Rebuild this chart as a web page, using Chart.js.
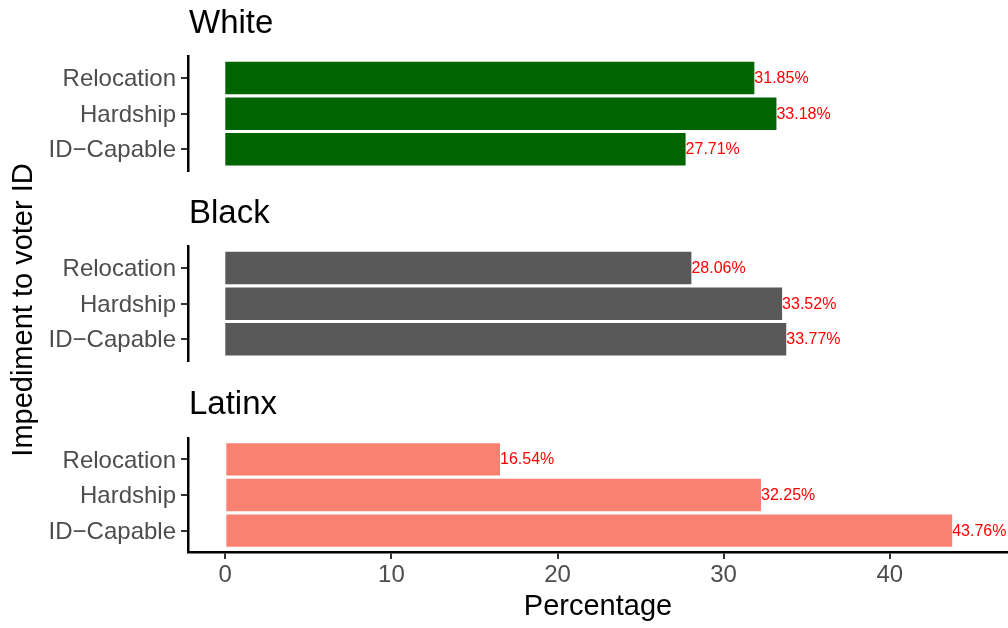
<!DOCTYPE html>
<html>
<head>
<meta charset="utf-8">
<script src="https://cdn.jsdelivr.net/npm/chart.js@4.4.0/dist/chart.umd.min.js"></script>
<style>
  body { margin: 0; background: #fff; }
  #wrap { position: relative; width: 1008px; height: 628px; overflow: hidden; font-family: "Liberation Sans", Arial, sans-serif; }
  canvas { position: absolute; left: 0; }
  #ytitle { position: absolute; left: -178px; top: 293px; width: 400px; height: 34px; line-height: 34px;
            text-align: center; font-size: 29px; color: #000; transform: rotate(-90deg); white-space: nowrap; }
</style>
</head>
<body>
<div id="wrap">
  <canvas id="white" width="1008" height="180" style="top:0px"></canvas>
  <canvas id="black" width="1008" height="180" style="top:190px"></canvas>
  <canvas id="latinx" width="1008" height="247" style="top:381px"></canvas>
  <div id="ytitle">Impediment to voter ID</div>
</div>
<script>
// bottom to top, like the facets
const impediments = ['ID−Capable', 'Hardship', 'Relocation'];
const whiteVals = [27.71, 33.18, 31.85];
const blackVals = [33.77, 33.52, 28.06];
const latinxVals = [43.76, 32.25, 16.54];
const xTicks = [0, 10, 20, 30, 40];

const FONT = '"Liberation Sans", Arial, sans-serif';
Chart.defaults.font.family = FONT;

const panelTitle = {
  id: 'panelTitle',
  afterDraw(chart, args, opts) {
    const ctx = chart.ctx;
    ctx.save();
    ctx.font = '33px ' + FONT;
    ctx.fillStyle = '#000';
    ctx.textAlign = 'left';
    ctx.textBaseline = 'alphabetic';
    ctx.fillText(opts.text, chart.chartArea.left + 1, chart.chartArea.top - 23.7);
    ctx.restore();
  }
};

const barLabels = {
  id: 'barLabels',
  afterDatasetsDraw(chart) {
    const ctx = chart.ctx;
    const meta = chart.getDatasetMeta(0);
    const data = chart.data.datasets[0].data;
    ctx.save();
    ctx.font = '16px ' + FONT;
    ctx.fillStyle = '#ff0000';
    ctx.textAlign = 'left';
    ctx.textBaseline = 'middle';
    meta.data.forEach((bar, i) => {
      ctx.fillText(data[i].x.toFixed(2) + '%', bar.x, bar.y + 0.5);
    });
    ctx.restore();
  }
};

function makePanel(id, title, vals, color, padTop, padBottom, showX) {
  return new Chart(document.getElementById(id), {
    type: 'bar',
    data: {
      datasets: [{
        data: impediments.map((c, i) => ({ x: vals[i], y: i + 1 })),
        backgroundColor: color,
        borderWidth: 0,
        barPercentage: 0.91,
        categoryPercentage: 1
      }]
    },
    options: {
      indexAxis: 'y',
      responsive: false,
      animation: false,
      layout: { padding: { top: padTop, bottom: padBottom, left: 0, right: 0 } },
      plugins: {
        legend: { display: false },
        tooltip: { enabled: false },
        panelTitle: { text: title }
      },
      scales: {
        x: {
          type: 'linear',
          min: -2.245,
          max: 47.12,
          display: showX,
          afterBuildTicks: s => { s.ticks = xTicks.map(v => ({ value: v })); },
          afterFit: s => {
            if (showX) s.height = 76;
            s.paddingLeft = 0; s.paddingRight = 0;
          },
          border: { display: true, color: '#000', width: 2.5 },
          grid: { drawOnChartArea: false, drawTicks: true, tickLength: 7, color: '#333333', lineWidth: 2 },
          ticks: { color: '#4d4d4d', font: { size: 24 }, padding: 2, maxRotation: 0, autoSkip: false },
          title: { display: true, text: 'Percentage', color: '#000', font: { size: 29 }, padding: { top: 0, bottom: 4 } }
        },
        y: {
          type: 'linear',
          min: 0.4,
          max: 3.6,
          offset: false,
          afterBuildTicks: s => { s.ticks = impediments.map((c, i) => ({ value: i + 1 })); },
          afterFit: s => { s.width = 188; s.paddingTop = 0; s.paddingBottom = 0; },
          border: { display: true, color: '#000', width: 2.5 },
          grid: { offset: false, drawOnChartArea: false, drawTicks: true, tickLength: 7, color: '#333333', lineWidth: 2 },
          ticks: {
            callback: v => impediments[Math.round(v) - 1],
            color: '#4d4d4d', font: { size: 24 }, padding: 5, autoSkip: false, labelOffset: 1.5
          }
        }
      }
    },
    plugins: [panelTitle, barLabels]
  });
}

makePanel('white', 'White', whiteVals, '#006400', 56.7, 9.3, false);
makePanel('black', 'Black', blackVals, '#595959', 56.7, 9.3, false);
makePanel('latinx', 'Latinx', latinxVals, '#fa8072', 57, 0, true);
</script>
</body>
</html>
